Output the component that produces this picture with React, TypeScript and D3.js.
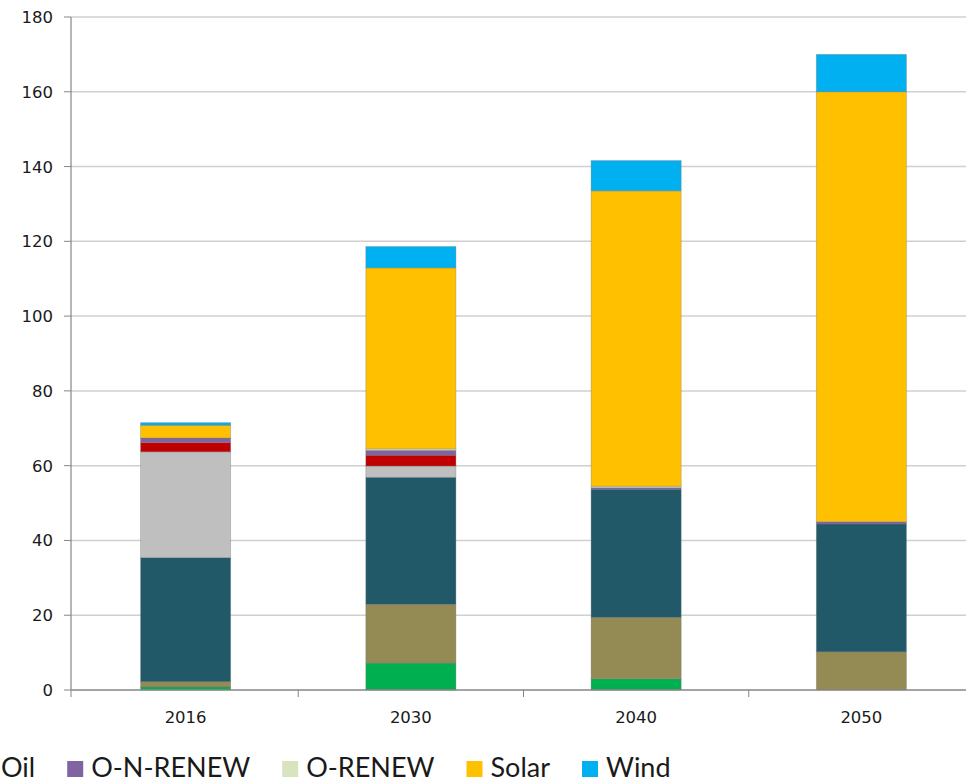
import React, { useEffect, useRef } from "react";
import * as d3 from "d3";

// years on the x axis
const years = ["2016", "2030", "2040", "2050"];

// series, bottom to top
const seriesNames = ["Bio", "Gas", "Hydro", "Nuclear", "Oil", "O-N-RENEW", "O-RENEW", "Solar", "Wind"];
const seriesColors = ["#00b050", "#948a54", "#215968", "#bfbfbf", "#c00000", "#8064a2", "#d7e4bd", "#ffc000", "#00b0f0"];

const bio = [0.8, 7.2, 3.0, 0];
const gas = [1.4, 15.7, 16.4, 10.2];
const hydro = [33.2, 34.0, 34.3, 34.2];
const nuclear = [28.3, 3.0, 0, 0];
const oil = [2.5, 2.9, 0, 0];
const oNRenew = [1.2, 1.3, 0.4, 0.6];
const oRenew = [0, 0.4, 0.4, 0];
const solar = [3.4, 48.4, 79.0, 115.0];
const wind = [0.7, 5.7, 8.1, 10.0];

const yTicks = [0, 20, 40, 60, 80, 100, 120, 140, 160, 180];

// legend is cropped in the picture: only "Oil" onward is visible
const legendFirst = "Oil";

const seriesValues = [bio, gas, hydro, nuclear, oil, oNRenew, oRenew, solar, wind];

const width = 966;
const height = 784;
const margin = { top: 17, left: 71, bottom: 94 };
const plotRight = 972;

const App: React.FC = () => {
  const legendRef = useRef<SVGGElement>(null);

  const rows = years.map((yr, i) => {
    const r: { [k: string]: number | string } = { year: yr };
    seriesNames.forEach((s, j) => (r[s] = seriesValues[j][i]));
    return r;
  });

  const stacked = d3.stack<any>().keys(seriesNames)(rows);

  const x = d3.scaleBand().domain(years).range([margin.left + 2, plotRight + 2]).padding(0);
  const barW = x.bandwidth() * 0.4;

  const y = d3
    .scaleLinear()
    .domain([0, 180])
    .range([height - margin.bottom, margin.top]);

  const legendItems = seriesNames
    .map((s, i) => ({ name: s, color: seriesColors[i] }))
    .slice(seriesNames.indexOf(legendFirst));

  // place legend items one after another; first text starts at the left edge
  useEffect(() => {
    const g = d3.select(legendRef.current);
    if (!g.node()) return;
    const items = g.selectAll<SVGGElement, unknown>("g.item").nodes();
    const widths = items.map((n) => (n.querySelector("text") as SVGTextElement).getComputedTextLength());
    const box = 16;
    const gapText = 8;
    const gapItem = 32;
    let cur = 1 - (box + gapText);
    items.forEach((n, i) => {
      d3.select(n).attr("transform", `translate(${cur},0)`);
      cur += box + gapText + widths[i] + gapItem;
    });
  }, []);

  const baseY = y(0);

  return (
    <svg
      width={width}
      height={height}
      style={{ position: "absolute", left: 0, top: 0, background: "#fff" }}
    >
      {/* gridlines */}
      {yTicks.slice(1).map((t) => (
        <line key={t} x1={margin.left} x2={plotRight} y1={y(t)} y2={y(t)} stroke="#d0d0d0" strokeWidth={1.5} />
      ))}

      {/* bars */}
      {stacked.map((layer, si) => (
        <g key={layer.key} fill={seriesColors[si]}>
          {layer.map((d, i) =>
            d[1] - d[0] > 0 ? (
              <rect
                key={i}
                x={x(years[i])! + (x.bandwidth() - barW) / 2}
                y={y(d[1])}
                width={barW}
                height={y(d[0]) - y(d[1])}
                stroke="rgba(120,120,120,0.45)"
                strokeWidth={0.75}
              />
            ) : null
          )}
        </g>
      ))}

      {/* y axis */}
      <line x1={margin.left} x2={margin.left} y1={margin.top} y2={baseY} stroke="#868686" strokeWidth={1.2} />
      {yTicks.map((t) => (
        <g key={t}>
          <line x1={margin.left - 7} x2={margin.left} y1={y(t)} y2={y(t)} stroke="#868686" strokeWidth={1} />
          <text
            x={53}
            y={y(t) + 6}
            textAnchor="end"
            fontFamily="DejaVu Sans"
            fontSize={16.5}
            fill="#1a1a1a"
          >
            {t}
          </text>
        </g>
      ))}

      {/* x axis */}
      <line x1={margin.left} x2={plotRight} y1={baseY} y2={baseY} stroke="#868686" strokeWidth={1.5} />
      {years.map((yr, i) => (
        <g key={yr}>
          <line
            x1={i === 0 ? margin.left : x(yr)!}
            x2={i === 0 ? margin.left : x(yr)!}
            y1={baseY}
            y2={baseY + 7}
            stroke="#868686"
            strokeWidth={1}
          />
          <text
            x={x(yr)! + x.bandwidth() / 2}
            y={baseY + 33}
            textAnchor="middle"
            fontFamily="DejaVu Sans"
            fontSize={16.5}
            fill="#1a1a1a"
          >
            {yr}
          </text>
        </g>
      ))}

      {/* legend */}
      <g ref={legendRef}>
        {legendItems.map((it) => (
          <g className="item" key={it.name}>
            <rect x={0} y={761} width={16} height={16} fill={it.color} />
            <text x={24} y={777} fontFamily="Lato" fontSize={27} fill="#1a1a1a">
              {it.name}
            </text>
          </g>
        ))}
      </g>
    </svg>
  );
};

export default App;
